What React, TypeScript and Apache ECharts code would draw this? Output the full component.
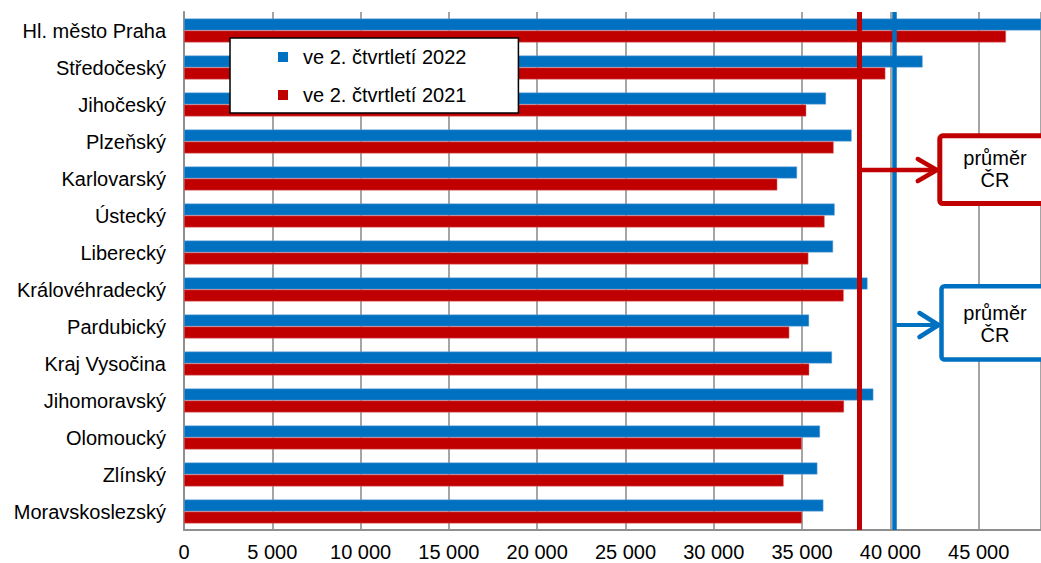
import React, { useEffect, useRef } from "react";
import * as echarts from "echarts";

const categories = [
  "Hl. město Praha",
  "Středočeský",
  "Jihočeský",
  "Plzeňský",
  "Karlovarský",
  "Ústecký",
  "Liberecký",
  "Královéhradecký",
  "Pardubický",
  "Kraj Vysočina",
  "Jihomoravský",
  "Olomoucký",
  "Zlínský",
  "Moravskoslezský",
];

const seriesNames = ["ve 2. čtvrtletí 2022", "ve 2. čtvrtletí 2021"];

const values2022 = [
  49400, 41830, 36360, 37810, 34720, 36850, 36760, 38710, 35400, 36700, 39040,
  36020, 35870, 36210,
];
const values2021 = [
  46550, 39720, 35240, 36790, 33600, 36280, 35360, 37360, 34280, 35410, 37380,
  34980, 33960, 35000,
];

const avg2022 = 40240;
const avg2021 = 38260;

const axisMin = 0;
const axisMax = 48530;
const axisInterval = 5000;

const boxLabel = "průměr\nČR";

const BLUE = "#0070C0";
const RED = "#C00000";
const FONT = "'Liberation Sans', Arial, sans-serif";
const FS = 20;

function fmt(v: number): string {
  return String(Math.round(v)).replace(/\B(?=(\d{3})+(?!\d))/g, " ");
}

export default function App() {
  const ref = useRef<HTMLDivElement>(null);

  useEffect(() => {
    if (!ref.current) return;
    const chart = echarts.init(ref.current, null, { renderer: "svg" });
    chart.setOption({
      animation: false,
      backgroundColor: "#ffffff",
      textStyle: { fontFamily: FONT },
      grid: { left: 184, right: 0, top: 12, bottom: 33, containLabel: false },
      legend: {
        data: seriesNames,
        orient: "vertical",
        left: 230,
        top: 38,
        backgroundColor: "#ffffff",
        borderColor: "#000000",
        borderWidth: 1.5,
        padding: [9, 52, 8, 48],
        itemWidth: 10,
        itemHeight: 10,
        itemGap: 18,
        icon: "rect",
        itemStyle: { borderWidth: 0 },
        textStyle: {
          fontSize: FS,
          color: "#000",
          fontFamily: FONT,
          lineHeight: 20,
          padding: [0, 0, 0, 10],
        },
      },
      xAxis: {
        type: "value",
        min: axisMin,
        max: axisMax,
        interval: axisInterval,
        axisLine: { show: true, lineStyle: { color: "#8f8f8f", width: 2 } },
        axisTick: { show: false },
        splitLine: { show: true, lineStyle: { color: "#8f8f8f", width: 1.6 } },
        axisLabel: {
          fontSize: FS,
          color: "#000",
          fontFamily: FONT,
          margin: 12,
          showMaxLabel: false,
          formatter: (v: number) => fmt(v),
        },
      },
      yAxis: {
        type: "category",
        data: categories,
        inverse: true,
        axisLine: { show: true, lineStyle: { color: "#8f8f8f", width: 2 } },
        axisTick: { show: false },
        splitLine: { show: false },
        axisLabel: {
          fontSize: FS,
          color: "#000",
          fontFamily: FONT,
          margin: 18,
        },
      },
      series: [
        {
          name: seriesNames[0],
          type: "bar",
          data: values2022,
          barWidth: 12,
          barGap: "0%",
          itemStyle: { color: BLUE, borderColor: "rgba(120,170,220,0.8)", borderWidth: 0.6 },
          markLine: {
            silent: true,
            symbol: "none",
            label: { show: false },
            z: 6,
            lineStyle: { color: BLUE, width: 4.5, type: "solid" },
            data: [{ xAxis: avg2022 }],
          },
        },
        {
          name: seriesNames[1],
          type: "bar",
          data: values2021,
          barWidth: 12,
          barGap: "0%",
          itemStyle: { color: RED, borderColor: "rgba(220,120,120,0.8)", borderWidth: 0.6 },
          markLine: {
            silent: true,
            symbol: "none",
            label: { show: false },
            z: 5,
            lineStyle: { color: RED, width: 5, type: "solid" },
            data: [{ xAxis: avg2021 }],
          },
        },
      ],
    });

    const xRed = chart.convertToPixel({ xAxisIndex: 0 }, avg2021) as number;
    const xBlue = chart.convertToPixel({ xAxisIndex: 0 }, avg2022) as number;

    const redBoxX = 939.8;
    const blueBoxX = 941.5;
    const redY = 170;
    const blueY = 325;

    const textStyle = {
      text: boxLabel,
      fill: "#000",
      fontSize: FS,
      fontFamily: FONT,
      lineHeight: 22,
      align: "center",
      verticalAlign: "middle",
    };

    chart.setOption({
      graphic: [
        {
          type: "line",
          z: 100,
          shape: { x1: xRed, y1: redY, x2: redBoxX - 4, y2: redY },
          style: { stroke: RED, lineWidth: 4.5 },
        },
        {
          type: "polyline",
          z: 100,
          shape: {
            points: [
              [redBoxX - 22, redY - 11],
              [redBoxX - 3, redY],
              [redBoxX - 22, redY + 11],
            ],
          },
          style: { stroke: RED, lineWidth: 4.5, fill: "none", lineCap: "round", lineJoin: "round" },
        },
        {
          type: "rect",
          z: 100,
          shape: { x: redBoxX, y: 135.8, width: 140, height: 67.7, r: 3 },
          style: { fill: "#ffffff", stroke: RED, lineWidth: 5 },
        },
        { type: "text", z: 101, x: 995, y: 169, style: textStyle },
        {
          type: "line",
          z: 100,
          shape: { x1: xBlue, y1: blueY, x2: blueBoxX - 4, y2: blueY },
          style: { stroke: BLUE, lineWidth: 4 },
        },
        {
          type: "polyline",
          z: 100,
          shape: {
            points: [
              [blueBoxX - 22, blueY - 12],
              [blueBoxX - 3, blueY],
              [blueBoxX - 22, blueY + 12],
            ],
          },
          style: { stroke: BLUE, lineWidth: 4.5, fill: "none", lineCap: "round", lineJoin: "round" },
        },
        {
          type: "rect",
          z: 100,
          shape: { x: blueBoxX, y: 286.2, width: 140, height: 73.3, r: 3 },
          style: { fill: "#ffffff", stroke: BLUE, lineWidth: 4.5 },
        },
        { type: "text", z: 101, x: 995, y: 324, style: textStyle },
      ],
    });

    return () => {
      chart.dispose();
    };
  }, []);

  return (
    <div
      ref={ref}
      style={{ position: "fixed", left: 0, top: 0, width: 1041, height: 563, background: "#fff" }}
    />
  );
}
